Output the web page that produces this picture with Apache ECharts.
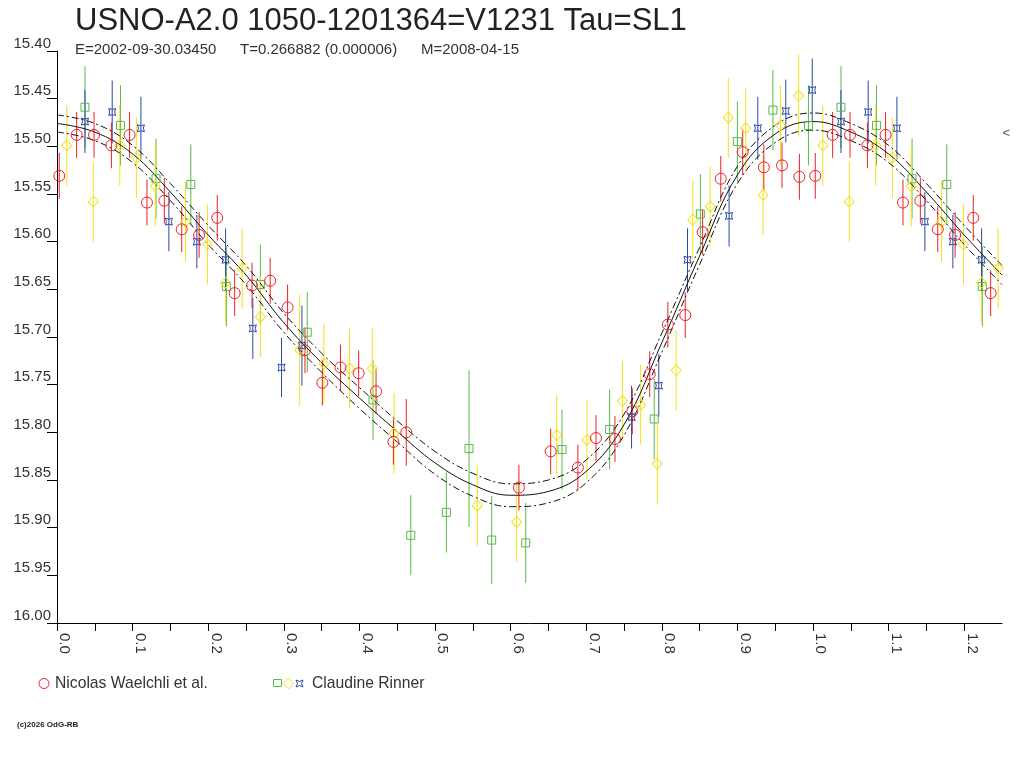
<!DOCTYPE html>
<html>
<head>
    <meta charset="utf-8">
    <title>V1231 Tau</title>
    <script src="https://cdn.jsdelivr.net/npm/echarts@6/dist/echarts.min.js"></script>
    <style>
        html, body { margin: 0; padding: 0; background: #fff; }
        #main { width: 1024px; height: 768px; }
    </style>
</head>
<body>
<div id="main"></div>
<script type="text/javascript">
    // observations: [phase, magnitude, error]
    var waelchli = [
        [0.003, 15.531, 0.024], [0.026, 15.488, 0.024], [0.049, 15.488, 0.024], [0.072, 15.499, 0.024],
        [0.096, 15.488, 0.024], [0.119, 15.559, 0.024], [0.142, 15.557, 0.024], [0.165, 15.587, 0.024],
        [0.188, 15.593, 0.024], [0.212, 15.575, 0.024], [0.235, 15.654, 0.024], [0.258, 15.646, 0.024],
        [0.282, 15.641, 0.024], [0.305, 15.669, 0.024], [0.328, 15.714, 0.024], [0.351, 15.748, 0.024],
        [0.375, 15.732, 0.024], [0.399, 15.738, 0.024], [0.422, 15.757, 0.024], [0.445, 15.810, 0.024],
        [0.462, 15.800, 0.035], [0.611, 15.858, 0.024], [0.653, 15.820, 0.024], [0.689, 15.837, 0.024],
        [0.713, 15.806, 0.024], [0.738, 15.807, 0.024], [0.761, 15.778, 0.024], [0.784, 15.739, 0.024],
        [0.808, 15.687, 0.024], [0.831, 15.677, 0.024], [0.854, 15.590, 0.024], [0.878, 15.534, 0.024],
        [0.907, 15.506, 0.024], [0.935, 15.522, 0.024], [0.959, 15.520, 0.024], [0.982, 15.532, 0.024]
    ];
    var rinnerGreen = [
        [0.037, 15.459, 0.043], [0.084, 15.478, 0.042], [0.131, 15.534, 0.042], [0.177, 15.540, 0.042],
        [0.224, 15.647, 0.042], [0.269, 15.645, 0.042], [0.331, 15.695, 0.042], [0.418, 15.766, 0.042],
        [0.468, 15.908, 0.042], [0.515, 15.884, 0.042], [0.545, 15.817, 0.082], [0.575, 15.913, 0.046],
        [0.620, 15.916, 0.042], [0.668, 15.818, 0.042], [0.731, 15.797, 0.042], [0.790, 15.786, 0.042],
        [0.851, 15.571, 0.042], [0.900, 15.495, 0.042], [0.947, 15.462, 0.042], [0.994, 15.478, 0.042]
    ];
    var rinnerYellow = [
        [0.013, 15.499, 0.042], [0.048, 15.558, 0.042], [0.083, 15.499, 0.042], [0.105, 15.512, 0.042],
        [0.130, 15.542, 0.042], [0.170, 15.579, 0.042], [0.199, 15.603, 0.042], [0.223, 15.643, 0.042],
        [0.245, 15.628, 0.042], [0.269, 15.679, 0.042], [0.321, 15.714, 0.058], [0.353, 15.728, 0.042],
        [0.387, 15.733, 0.042], [0.417, 15.733, 0.042], [0.446, 15.801, 0.042], [0.556, 15.877, 0.042],
        [0.608, 15.894, 0.042], [0.661, 15.803, 0.042], [0.701, 15.808, 0.042], [0.748, 15.767, 0.042],
        [0.772, 15.771, 0.042], [0.794, 15.833, 0.042], [0.819, 15.735, 0.042], [0.841, 15.577, 0.042],
        [0.864, 15.563, 0.042], [0.888, 15.470, 0.042], [0.911, 15.481, 0.042], [0.934, 15.551, 0.042],
        [0.957, 15.478, 0.042], [0.981, 15.447, 0.043]
    ];
    var rinnerBlue = [
        [0.037, 15.474, 0.033], [0.073, 15.464, 0.033], [0.111, 15.481, 0.033], [0.148, 15.579, 0.031],
        [0.185, 15.600, 0.028], [0.223, 15.619, 0.033], [0.259, 15.691, 0.032], [0.297, 15.732, 0.031],
        [0.324, 15.709, 0.042], [0.760, 15.784, 0.033], [0.796, 15.751, 0.033], [0.834, 15.619, 0.033],
        [0.889, 15.573, 0.032], [0.927, 15.481, 0.033], [0.964, 15.463, 0.033], [0.999, 15.441, 0.033]
    ];

    // fitted light curve and its envelope, read at 0.05 phase steps
    var curvePhase = [0.00, 0.05, 0.10, 0.15, 0.20, 0.25, 0.30, 0.35, 0.40, 0.45, 0.50,
                      0.55, 0.60, 0.65, 0.70, 0.75, 0.80, 0.85, 0.90, 0.95, 1.00];
    var curveMag = [15.476, 15.485, 15.508, 15.548, 15.593, 15.635, 15.685, 15.727, 15.764, 15.799, 15.832,
                    15.855, 15.866, 15.862, 15.841, 15.792, 15.706, 15.615, 15.530, 15.487, 15.474];
    var curveSpread = [0.009, 0.009, 0.009, 0.009, 0.010, 0.010, 0.010, 0.010, 0.011, 0.011, 0.012,
                       0.012, 0.012, 0.012, 0.012, 0.011, 0.010, 0.009, 0.009, 0.009, 0.009];

    var xTicks = [0.0, 0.1, 0.2, 0.3, 0.4, 0.5, 0.6, 0.7, 0.8, 0.9, 1.0, 1.1, 1.2];
    var maxMarker = 15.486;

    var titleText = 'USNO-A2.0 1050-1201364=V1231 Tau=SL1';
    var infoTexts = ['E=2002-09-30.03450', 'T=0.266882 (0.000006)', 'M=2008-04-15'];

    var RED = '#ee2026', GREEN = '#58b947', YELLOW = '#f2e31b', BLUE = '#2b48a5';
    var FONT = 'Liberation Sans, Arial, sans-serif';

    // the phase plot repeats phases 0..0.25 after 1.0
    function fold(arr) {
        var out = arr.slice();
        arr.forEach(function (p) {
            if (p[0] <= 0.25) out.push([p[0] + 1, p[1], p[2]]);
        });
        return out;
    }

    function curveLine(offset) {
        var pts = [];
        for (var i = 0; i < curvePhase.length; i++) {
            pts.push([curvePhase[i], curveMag[i] + offset * curveSpread[i]]);
        }
        for (var j = 1; j < curvePhase.length; j++) {
            if (curvePhase[j] <= 0.25) pts.push([curvePhase[j] + 1, curveMag[j] + offset * curveSpread[j]]);
        }
        return pts;
    }

    function errorBars(params, api) {
        var x = api.value(0), y = api.value(1), e = api.value(2);
        var p1 = api.coord([x, y - e]);
        var p2 = api.coord([x, y + e]);
        return {
            type: 'line',
            shape: { x1: p1[0], y1: p1[1], x2: p2[0], y2: p2[1] },
            style: { stroke: api.visual('color'), lineWidth: 1 }
        };
    }

    function barSeries(data, color) {
        return {
            type: 'custom',
            renderItem: errorBars,
            data: fold(data),
            encode: { x: 0, y: 1 },
            itemStyle: { color: color },
            clip: true,
            silent: true,
            z: 1
        };
    }

    function markSeries(data, color, symbol, size) {
        return {
            type: 'scatter',
            data: fold(data).map(function (p) { return [p[0], p[1]]; }),
            symbol: symbol,
            symbolSize: size,
            itemStyle: { color: 'rgba(0,0,0,0)', borderColor: color, borderWidth: 1, opacity: 1 },
            silent: true,
            z: 4
        };
    }

    var STAR = 'path://M0 0 Q5 3 10 0 Q7 5 10 10 Q5 7 0 10 Q3 5 0 0 Z';
    var DASHDOT = [7, 3, 2, 3];

    var chartDom = document.getElementById('main');
    var myChart = echarts.init(chartDom, null, { renderer: 'canvas' });

    var option = {
        backgroundColor: '#fff',
        animation: false,
        grid: { left: 57, right: 22, top: 51, bottom: 145, containLabel: false },
        xAxis: {
            type: 'value',
            min: 0,
            max: 1.25,
            interval: 0.05,
            axisLine: { onZero: false, lineStyle: { color: '#000', width: 1 } },
            axisTick: { show: true, length: 8, lineStyle: { color: '#000' } },
            splitLine: { show: false },
            axisLabel: {
                rotate: -90,
                margin: 10,
                align: 'left',
                verticalAlign: 'bottom',
                fontFamily: FONT,
                fontSize: 15,
                color: '#333',
                showMaxLabel: false,
                formatter: function (v) {
                    for (var i = 0; i < xTicks.length; i++) {
                        if (Math.abs(v - xTicks[i]) < 1e-6) return xTicks[i].toFixed(1);
                    }
                    return '';
                }
            }
        },
        yAxis: {
            type: 'value',
            inverse: true,
            min: 15.40,
            max: 16.00,
            interval: 0.05,
            axisLine: { show: true, onZero: false, lineStyle: { color: '#000', width: 1 } },
            axisTick: { show: true, length: 10, lineStyle: { color: '#000' } },
            splitLine: { show: false },
            axisLabel: {
                margin: 6,
                verticalAlign: 'bottom',
                fontFamily: FONT,
                fontSize: 15,
                color: '#333',
                formatter: function (v) { return v.toFixed(2); }
            }
        },
        series: [
            barSeries(rinnerGreen, GREEN),
            barSeries(rinnerYellow, YELLOW),
            barSeries(rinnerBlue, BLUE),
            barSeries(waelchli, RED),
            {
                type: 'line', data: curveLine(0), smooth: 0.4, showSymbol: false, silent: true,
                lineStyle: { color: '#111', width: 1 }, z: 3
            },
            {
                type: 'line', data: curveLine(-1), smooth: 0.4, showSymbol: false, silent: true,
                lineStyle: { color: '#111', width: 1, type: DASHDOT }, z: 3
            },
            {
                type: 'line', data: curveLine(1), smooth: 0.4, showSymbol: false, silent: true,
                lineStyle: { color: '#111', width: 1, type: DASHDOT }, z: 3
            },
            markSeries(rinnerGreen, GREEN, 'rect', 8),
            markSeries(rinnerYellow, YELLOW, 'diamond', [10, 11]),
            markSeries(rinnerBlue, BLUE, STAR, 7),
            markSeries(waelchli, RED, 'circle', 11),
            {
                type: 'scatter',
                data: [[1.25, maxMarker]],
                symbolSize: 1,
                itemStyle: { color: 'rgba(0,0,0,0)' },
                silent: true,
                label: {
                    show: true, position: 'right', distance: 0, formatter: '<',
                    fontFamily: FONT, fontSize: 13, color: '#222'
                }
            }
        ],
        graphic: [
            { type: 'text', x: 75, y: 6, style: { text: titleText, font: '31px ' + FONT, fill: '#222' } },
            { type: 'text', x: 75, y: 42.5, style: { text: infoTexts[0], font: '15px ' + FONT, fill: '#333' } },
            { type: 'text', x: 240, y: 42.5, style: { text: infoTexts[1], font: '15px ' + FONT, fill: '#333' } },
            { type: 'text', x: 421, y: 42.5, style: { text: infoTexts[2], font: '15px ' + FONT, fill: '#333' } },

            { type: 'circle', shape: { cx: 44, cy: 683.5, r: 5 }, style: { fill: 'none', stroke: RED, lineWidth: 1 } },
            { type: 'text', x: 55, y: 675.5, style: { text: 'Nicolas Waelchli et al.', font: '15.7px ' + FONT, fill: '#333' } },
            { type: 'rect', shape: { x: 273.5, y: 679.5, width: 8, height: 7 }, style: { fill: 'none', stroke: GREEN, lineWidth: 1 } },
            { type: 'polygon', shape: { points: [[288.5, 678], [294, 683.5], [288.5, 689], [283, 683.5]] }, style: { fill: 'none', stroke: YELLOW, lineWidth: 1 } },
            { type: 'polygon', shape: { points: [[296, 680], [299.5, 681.5], [303, 680], [301.5, 683.5], [303, 687], [299.5, 685.5], [296, 687], [297.5, 683.5]] }, style: { fill: 'none', stroke: BLUE, lineWidth: 1 } },
            { type: 'text', x: 312, y: 675.5, style: { text: 'Claudine Rinner', font: '15.7px ' + FONT, fill: '#333' } },

            { type: 'text', x: 17, y: 721, style: { text: '(c)2026 OdG-RB', font: 'bold 8px ' + FONT, fill: '#222' } }
        ]
    };

    option && myChart.setOption(option, true);
</script>
</body>
</html>
